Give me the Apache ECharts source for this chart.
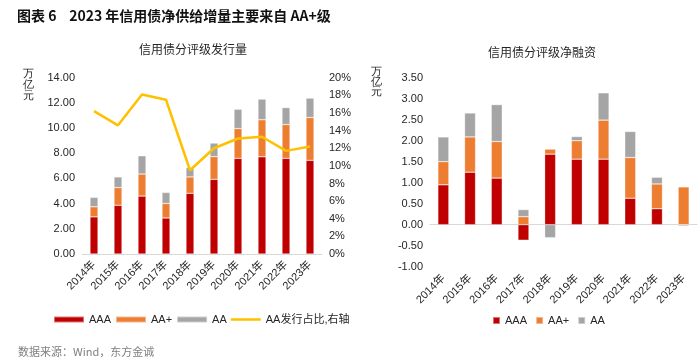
<!DOCTYPE html>
<html><head><meta charset="utf-8">
<script src="https://cdn.jsdelivr.net/npm/echarts@6/dist/echarts.min.js"></script>
<style>html,body{margin:0;padding:0;background:#fff}#c{width:700px;height:364px}</style>
</head><body><div id="c"></div>
<script>
const years = ['2014年','2015年','2016年','2017年','2018年','2019年','2020年','2021年','2022年','2023年'];
// 信用债分评级发行量 (万亿元)
const issueAAA = [2.95, 3.87, 4.60, 2.86, 4.82, 5.93, 7.60, 7.72, 7.60, 7.44];
const issueAAp = [0.80, 1.40, 1.75, 1.15, 1.30, 1.80, 2.36, 2.94, 2.68, 3.40];
const issueAA  = [0.75, 0.85, 1.45, 0.88, 0.75, 1.08, 1.54, 1.64, 1.35, 1.54];
const issueAAshare = [16.2, 14.6, 18.1, 17.5, 9.5, 12.0, 13.1, 13.3, 11.7, 12.2]; // %
// 信用债分评级净融资 (万亿元)
const netAAA = [0.95, 1.25, 1.11, -0.37, 1.68, 1.56, 1.56, 0.63, 0.38, 0.00];
const netAAp = [0.55, 0.84, 0.87, 0.19, 0.12, 0.44, 0.93, 0.97, 0.59, 0.90];
const netAA  = [0.59, 0.57, 0.88, 0.17, -0.31, 0.10, 0.65, 0.62, 0.16, -0.03];

const FONT = '"Liberation Sans", Arial, "Noto Sans CJK SC", sans-serif';
const CJK = '"Noto Sans CJK SC", "Microsoft YaHei", sans-serif';
const RED = '#C00000', ORANGE = '#ED7D31', GRAY = '#A5A5A5', YELLOW = '#FFC000';
const TXT = '#262626';
const EDGE = {borderColor: 'rgba(255,255,255,0.45)', borderWidth: 0.6};

const chart = echarts.init(document.getElementById('c'), null, {renderer: 'canvas'});
const lbl = {color: TXT, fontSize: 11, fontFamily: FONT};
chart.setOption({
  animation: false,
  textStyle: {fontFamily: FONT},
  title: [
    {text: '图表 6    2023 年信用债净供给增量主要来自 AA+级', left: 12, top: 4,
     textStyle: {fontSize: 14, fontWeight: 'bold', color: '#111', fontFamily: CJK}},
    {text: '信用债分评级发行量', left: 188, top: 38, textAlign: 'center',
     textStyle: {fontSize: 12, fontWeight: 'normal', color: TXT, fontFamily: CJK}},
    {text: '信用债分评级净融资', left: 537, top: 41, textAlign: 'center',
     textStyle: {fontSize: 12, fontWeight: 'normal', color: TXT, fontFamily: CJK}},
    {text: '数据来源：Wind，东方金诚', left: 13, top: 341,
     textStyle: {fontSize: 11, fontWeight: 'normal', color: '#7f7f7f', fontFamily: CJK}}
  ],
  graphic: [
    {type: 'text', left: 23, top: 68, style: {text: '万\n亿\n元', fontSize: 11, lineHeight: 11, fill: TXT, font: '11px ' + CJK}},
    {type: 'text', left: 371, top: 66, style: {text: '万\n亿\n元', fontSize: 11, lineHeight: 10, fill: TXT, font: '11px ' + CJK}}
  ],
  legend: [
    {left: 48, top: 309, itemWidth: 30, itemHeight: 6, itemGap: 4,
     textStyle: {fontSize: 11, color: TXT, fontFamily: FONT},
     data: [{name: 'AAA', icon: 'rect'}, {name: 'AA+', icon: 'rect'}, {name: 'AA', icon: 'rect'},
            {name: 'AA发行占比,右轴', icon: 'path://M0,0H30V2.5H0Z'}]},
    {left: 487, top: 310, itemWidth: 7, itemHeight: 7, itemGap: 5,
     textStyle: {fontSize: 11, color: TXT, fontFamily: FONT},
     data: [{name: 'AAA ', icon: 'rect'}, {name: 'AA+ ', icon: 'rect'}, {name: 'AA ', icon: 'rect'}]}
  ],
  grid: [
    {left: 82, top: 77.7, width: 240, height: 176.3},
    {left: 430, top: 77.7, width: 267, height: 189}
  ],
  xAxis: [
    {type: 'category', gridIndex: 0, data: years,
     axisLine: {lineStyle: {color: '#D9D9D9', width: 1}}, axisTick: {show: false},
     axisLabel: Object.assign({rotate: 45, interval: 0, margin: 9}, lbl)},
    {type: 'category', gridIndex: 1, data: years,
     axisLine: {onZero: true, lineStyle: {color: '#D9D9D9', width: 1}}, axisTick: {show: false},
     axisLabel: {show: false}},
    {type: 'category', gridIndex: 1, data: years, position: 'bottom',
     axisLine: {show: false, onZero: false}, axisTick: {show: false},
     axisLabel: Object.assign({rotate: 45, interval: 0, margin: 10}, lbl)}
  ],
  yAxis: [
    {type: 'value', gridIndex: 0, min: 0, max: 14, interval: 2,
     splitLine: {show: false}, axisLine: {show: false},
     axisLabel: Object.assign({margin: 7, formatter: v => v.toFixed(2)}, lbl)},
    {type: 'value', gridIndex: 0, min: 0, max: 20, interval: 2, position: 'right',
     splitLine: {show: false}, axisLine: {show: false},
     axisLabel: Object.assign({margin: 7, formatter: '{value}%'}, lbl)},
    {type: 'value', gridIndex: 1, min: -1, max: 3.5, interval: 0.5,
     splitLine: {show: false}, axisLine: {show: false},
     axisLabel: Object.assign({margin: 7, formatter: v => v.toFixed(2)}, lbl)}
  ],
  series: [
    {name: 'AAA', type: 'bar', stack: 'a', xAxisIndex: 0, yAxisIndex: 0, barWidth: 8, data: issueAAA, itemStyle: Object.assign({color: RED}, EDGE)},
    {name: 'AA+', type: 'bar', stack: 'a', xAxisIndex: 0, yAxisIndex: 0, barWidth: 8, data: issueAAp, itemStyle: Object.assign({color: ORANGE}, EDGE)},
    {name: 'AA', type: 'bar', stack: 'a', xAxisIndex: 0, yAxisIndex: 0, barWidth: 8, data: issueAA, itemStyle: Object.assign({color: GRAY}, EDGE)},
    {name: 'AA发行占比,右轴', type: 'line', xAxisIndex: 0, yAxisIndex: 1, data: issueAAshare,
     symbol: 'none', lineStyle: {color: YELLOW, width: 2.5}, itemStyle: {color: YELLOW}, z: 5},
    {name: 'AAA ', type: 'bar', stack: 'b', xAxisIndex: 1, yAxisIndex: 2, barWidth: 11, data: netAAA, itemStyle: Object.assign({color: RED}, EDGE)},
    {name: 'AA+ ', type: 'bar', stack: 'b', xAxisIndex: 1, yAxisIndex: 2, barWidth: 11, data: netAAp, itemStyle: Object.assign({color: ORANGE}, EDGE)},
    {name: 'AA ', type: 'bar', stack: 'b', xAxisIndex: 1, yAxisIndex: 2, barWidth: 11, data: netAA, itemStyle: Object.assign({color: GRAY}, EDGE)}
  ]
});
</script></body></html>
